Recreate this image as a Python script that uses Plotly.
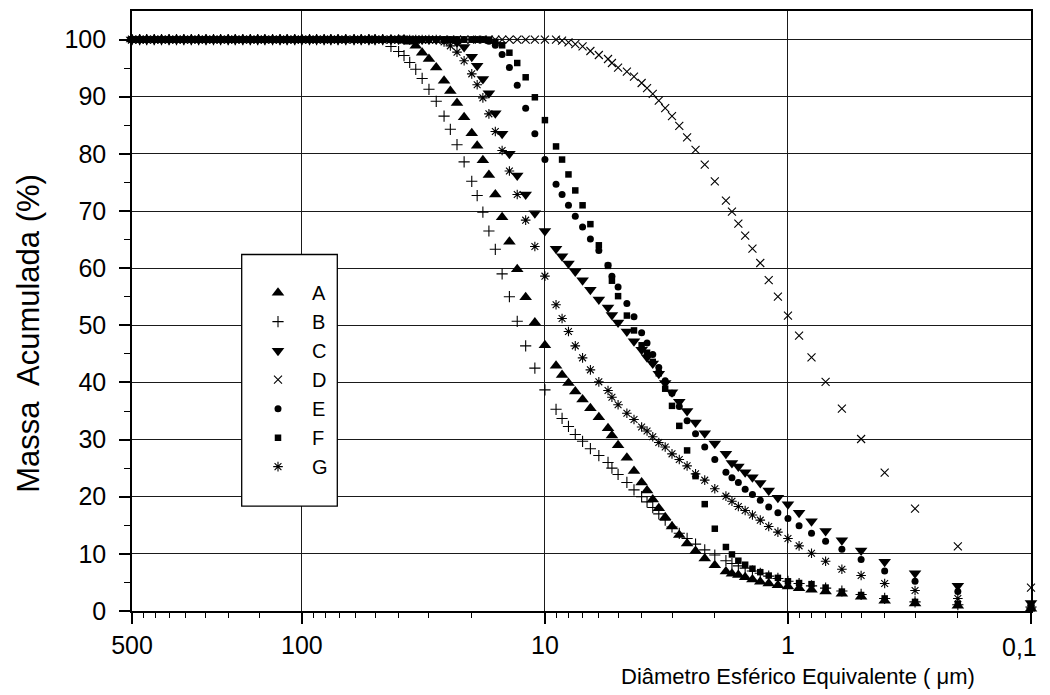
import math
import plotly.graph_objects as go

# ---- data ----
PLATEAU_DIAM = [500, 465, 435, 405, 378, 352, 328, 306, 285, 266, 248, 231, 216, 201, 188,
                175, 163, 152, 142, 132, 123, 115, 107, 100, 93, 87, 81, 76, 71, 66, 61, 57,
                53, 50, 46.5]
PLATEAU_MASS = [100, 100, 100, 100, 100, 100, 100, 100, 100, 100, 100, 100, 100, 100, 100,
                100, 100, 100, 100, 100, 100, 100, 100, 100, 100, 100, 100, 100, 100, 100,
                100, 100, 100, 100, 100]

GRID_DIAM = [43, 40, 38, 36, 34, 32, 30, 28, 26, 24.5, 23, 21.5, 20,
             19, 18, 17, 16, 15, 14, 13, 12, 11, 10,
             9, 8.5, 8, 7.5, 7, 6.5, 6, 5.5, 5.3, 5.0,
             4.6, 4.3, 4.0, 3.8, 3.6, 3.4, 3.2, 3.0, 2.8, 2.6, 2.4, 2.2, 2.0,
             1.8, 1.7, 1.6, 1.5, 1.4, 1.3, 1.2, 1.1, 1.0,
             0.9, 0.8, 0.7, 0.6, 0.5, 0.4, 0.3, 0.2, 0.1]

A_MASS = [100, 100, 100, 99.6, 98.9, 97.7, 96.6, 95.1, 92.8, 91.0, 88.9, 86.4, 83.6,
          81.4, 78.9, 76.3, 72.9, 68.9, 64.6, 59.8, 54.9, 50.5, 46.5,
          42.9, 41.3, 39.9, 38.4, 37.0, 35.5, 33.9, 32.0, 30.7, 29.0,
          26.8, 24.5, 22.5, 21.1, 19.5, 18.0, 16.4, 14.8, 13.3, 11.8, 10.5, 9.2, 8.0,
          6.9, 6.5, 6.3, 5.9, 5.5, 5.1, 4.8, 4.5, 4.3,
          4.0, 3.7, 3.4, 3.0, 2.5, 1.8, 1.3, 0.9, 0.4]
B_MASS = [98.8, 97.9, 97.2, 96.0, 94.8, 93.2, 91.3, 89.2, 86.6, 84.3, 81.6, 78.6, 75.2,
          72.7, 69.8, 66.5, 63.3, 59.0, 55.0, 50.7, 46.4, 42.5, 38.7,
          35.3, 33.7, 32.3, 30.9, 29.7, 28.4, 27.2, 26.0, 25.0, 23.9,
          22.5, 21.2, 20.0, 19.1, 18.1, 17.0, 15.9, 14.7, 13.6, 12.7, 11.7, 10.7, 9.8,
          8.8, 8.3, 7.9, 7.5, 7.0, 6.6, 6.1, 5.7, 5.2,
          4.8, 4.4, 4.0, 3.5, 2.9, 2.2, 1.6, 1.1, 0.7]
C_MASS = [100, 100, 100, 100, 100, 100, 100, 100, 100, 100, 99.5, 98.7, 97.0,
          95.4, 93.1, 90.6, 87.1, 83.5, 80.0, 76.2, 72.9, 69.6, 66.5,
          63.4, 62.1, 60.8, 59.4, 57.9, 56.2, 54.5, 53.1, 51.8, 50.5,
          48.9, 47.2, 45.7, 44.4, 43.3, 41.5, 39.9, 38.3, 36.6, 35.0, 33.0, 31.1, 29.3,
          27.5, 25.9, 25.3, 24.3, 23.4, 22.4, 21.1, 19.8, 18.7,
          17.2, 15.7, 14.0, 12.4, 10.6, 8.6, 6.6, 4.4, 1.4]
D_MASS = [100, 100, 100, 100, 100, 100, 100, 100, 100, 100, 100, 100, 100,
          100, 100, 100, 100, 100, 100, 100, 100, 100, 100,
          100, 99.8, 99.5, 99.2, 98.8, 98.0, 97.3, 96.6, 95.9, 95.1,
          94.4, 93.5, 92.4, 91.5, 90.5, 89.3, 88.0, 86.6, 84.9, 82.9, 80.7, 78.1, 75.2,
          71.8, 69.9, 67.8, 65.7, 63.4, 60.9, 57.9, 55.0, 51.7,
          48.2, 44.4, 40.1, 35.4, 30.1, 24.2, 17.9, 11.3, 4.1]
E_MASS = [100, 100, 100, 100, 100, 100, 100, 100, 100, 100, 100, 100, 100,
          100, 100, 99.7, 99.0, 97.4, 95.1, 92.0, 88.0, 83.5, 79.0,
          74.7, 72.9, 71.0, 69.1, 67.2, 65.1, 63.1, 60.5, 58.6, 56.7,
          53.8, 51.5, 48.7, 46.9, 44.9, 42.6, 40.3, 38.1, 35.8, 33.3, 31.0, 28.7, 26.5,
          24.3, 23.3, 22.5, 21.3, 20.4, 19.4, 18.2, 17.2, 16.2,
          14.9, 13.6, 12.2, 10.8, 9.0, 7.0, 5.2, 3.4, 0.9]
F_MASS = [100, 100, 100, 100, 100, 100, 100, 100, 100, 100, 100, 100, 100,
          100, 100, 100, 99.6, 99.0, 97.7, 95.9, 93.4, 89.9, 85.9,
          81.3, 79.0, 76.4, 73.6, 71.0, 67.7, 64.0, 60.4, 57.8, 55.1,
          51.7, 49.1, 46.5, 45.2, 43.6, 41.6, 38.9, 35.9, 32.4, 28.1, 23.6, 18.7, 14.4,
          11.2, 9.9, 8.8, 8.1, 7.4, 6.8, 6.2, 5.8, 5.2,
          4.9, 4.7, 4.1, 3.4, 2.8, 2.2, 1.6, 1.2, 0.8]
G_MASS = [100, 100, 100, 100, 100, 100, 100, 100, 99.6, 98.9, 97.8, 96.3, 94.0,
          92.1, 89.8, 87.0, 83.9, 80.6, 77.0, 72.9, 68.4, 63.8, 58.6,
          53.6, 51.2, 48.9, 46.4, 44.3, 42.2, 40.1, 38.6, 37.4, 36.1,
          34.6, 33.5, 32.2, 31.5, 30.5, 29.5, 28.7, 27.5, 26.5, 25.4, 24.0, 22.9, 21.4,
          20.1, 19.2, 18.3, 17.6, 16.8, 15.9, 14.8, 13.8, 12.7,
          11.4, 10.1, 8.7, 7.3, 6.2, 4.8, 3.6, 2.2, 0.5]

SERIES_NAMES = ["A", "B", "C", "D", "E", "F", "G"]
SERIES_MASS = [A_MASS, B_MASS, C_MASS, D_MASS, E_MASS, F_MASS, G_MASS]

X_TICKS = [500, 100, 10, 1, 0.1]
X_TICKTEXT = ["500", "100", "10", "1", ""]
X_MINOR = [450, 400, 350, 300, 250, 200, 150,
           90, 80, 70, 60, 50, 40, 30, 20,
           9, 8, 7, 6, 5, 4, 3, 2,
           0.9, 0.8, 0.7, 0.6, 0.5, 0.4, 0.3, 0.2]
Y_TICKS = [0, 10, 20, 30, 40, 50, 60, 70, 80, 90, 100]
Y_MINOR = [5, 15, 25, 35, 45, 55, 65, 75, 85, 95]

# ---- styles ----
FONT = "Liberation Sans, Arial, sans-serif"
STYLES = {
    "A": dict(symbol="triangle-up", size=11, line=dict(width=0)),
    "B": dict(symbol="cross-thin-open", size=8, line=dict(width=1.1, color="black")),
    "C": dict(symbol="triangle-down", size=11, line=dict(width=0)),
    "D": dict(symbol="x-thin-open", size=8, line=dict(width=1.1, color="black")),
    "E": dict(symbol="circle", size=7, line=dict(width=0)),
    "F": dict(symbol="square", size=6.5, line=dict(width=0)),
    "G": dict(symbol="asterisk-open", size=8, line=dict(width=1.1, color="black")),
}

fig = go.Figure()
for name, mass in zip(SERIES_NAMES, SERIES_MASS):
    st = STYLES[name]
    fig.add_trace(go.Scatter(
        x=PLATEAU_DIAM + GRID_DIAM,
        y=PLATEAU_MASS + mass,
        mode="markers",
        name=name,
        cliponaxis=False,
        marker=dict(color="black", symbol=st["symbol"], size=st["size"], line=st["line"]),
    ))

# page offset of the plot div (default body margin)
OFF = 8
W, H = 1050 - OFF, 695 - OFF
# target plot area in page pixels
PX_L, PX_R, PX_T, PX_B = 132, 1031, 9, 611
plot_w = PX_R - PX_L
plot_h = PX_B - PX_T

def paper_x(px):
    return (px - PX_L) / plot_w

def paper_y(py):
    return (PX_B - py) / plot_h

fig.update_layout(
    width=W, height=H,
    margin=dict(l=PX_L - OFF, r=W - (PX_R - OFF), t=PX_T - OFF, b=H - (PX_B - OFF)),
    paper_bgcolor="white", plot_bgcolor="white",
    font=dict(family=FONT, color="black"),
    showlegend=True,
    legend=dict(
        x=paper_x(244), y=paper_y(272), xanchor="left", yanchor="top",
        bgcolor="rgba(0,0,0,0)", borderwidth=0,
        font=dict(family=FONT, size=20, color="black"),
        itemwidth=58,
    ),
    shapes=[dict(
        type="rect", xref="paper", yref="paper", layer="above",
        x0=paper_x(241.7), x1=paper_x(337.3), y0=paper_y(505.7), y1=paper_y(253.3),
        line=dict(color="black", width=1.3), fillcolor="white",
    )],
)

fig.update_xaxes(
    type="log", range=[math.log10(500), math.log10(0.1)],
    tickmode="array", tickvals=X_TICKS, ticktext=X_TICKTEXT,
    ticks="outside", ticklen=11, tickwidth=1.5, tickcolor="black",
    tickfont=dict(family=FONT, size=25, color="black"),
    showline=True, linecolor="black", linewidth=1.6, mirror=True,
    showgrid=True, gridcolor="#1a1a1a", gridwidth=1, zeroline=False,
    minor=dict(tickmode="array", tickvals=X_MINOR, ticks="outside", ticklen=5,
               tickwidth=1.3, tickcolor="black", showgrid=False),
)
fig.update_yaxes(
    range=[0, 105],
    tickmode="array", tickvals=Y_TICKS,
    ticks="outside", ticklen=11, tickwidth=1.5, tickcolor="black",
    tickfont=dict(family=FONT, size=25, color="black"),
    ticklabelstandoff=8,
    showline=True, linecolor="black", linewidth=1.6, mirror=True,
    showgrid=True, gridcolor="#1a1a1a", gridwidth=1, zeroline=False,
    minor=dict(tickmode="array", tickvals=Y_MINOR, ticks="outside", ticklen=6,
               tickwidth=1.3, tickcolor="black", showgrid=False),
)

fig.add_annotation(
    text="0,1", xref="x", x=math.log10(0.1), xshift=-12,
    yref="paper", y=0, yshift=-36, yanchor="middle", xanchor="center",
    showarrow=False, font=dict(family=FONT, size=25, color="black"),
)
fig.add_annotation(
    text="Diâmetro Esférico Equivalente ( μm)",
    xref="x", x=-0.042, xanchor="center",
    yref="paper", y=0, yshift=-65, yanchor="middle",
    showarrow=False, font=dict(family=FONT, size=22, color="black"),
)
fig.add_annotation(
    text="Massa\u00a0 Acumulada (%)",
    xref="paper", x=0, xshift=-103, xanchor="center",
    yref="y", y=48.5, yanchor="middle", textangle=-90,
    showarrow=False, font=dict(family=FONT, size=31, color="black"),
)

fig.write_html("out.html")
